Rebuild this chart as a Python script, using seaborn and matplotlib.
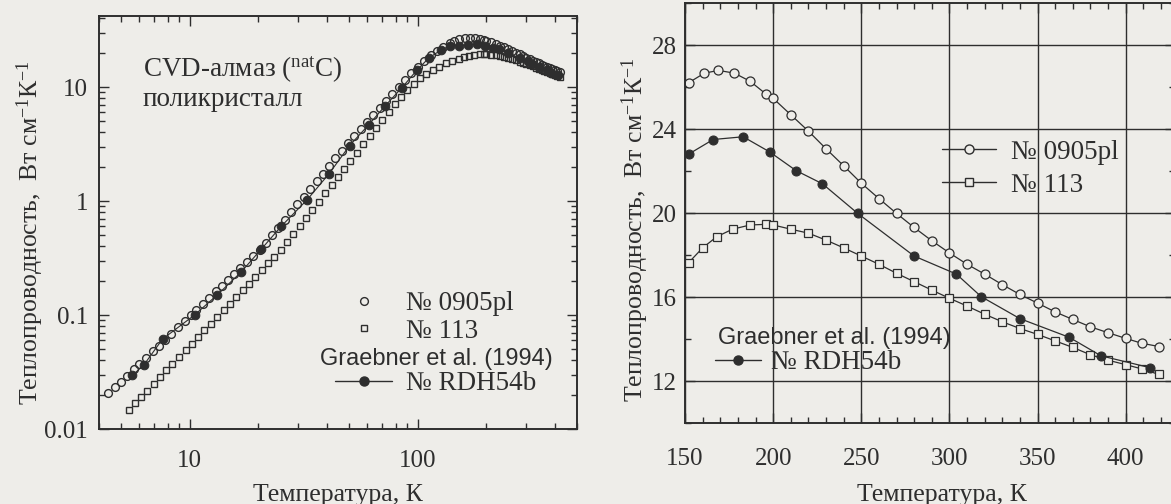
import matplotlib
matplotlib.use("Agg")
import matplotlib.pyplot as plt
import seaborn as sns
from matplotlib import font_manager
from matplotlib.lines import Line2D
from matplotlib.ticker import FuncFormatter, MultipleLocator

# left panel, low temperature part (log-log)
T_CIRC_LOW = [4.4, 4.7, 5.0, 5.3, 5.7, 6.0, 6.4, 6.9, 7.3, 7.8, 8.3, 8.9, 9.5, 10.1,
              10.7, 11.4, 12.2, 13.0, 13.8, 14.7, 15.7, 16.7, 17.8, 19.0, 20.3, 21.6,
              23.0, 24.5, 26.1, 27.9, 29.7, 31.7, 33.8, 36.0, 38.4, 40.9, 43.6, 46.5,
              49.5, 52.8, 56.3, 60.0, 64.0, 68.2, 72.7, 77.5, 82.6, 88.1, 93.9, 100,
              107, 114, 121, 129, 138, 145]
K_CIRC_LOW = [0.0205, 0.0232, 0.0261, 0.0292, 0.0335, 0.0370, 0.0417, 0.0482, 0.0537,
              0.0608, 0.0685, 0.0781, 0.0886, 0.0994, 0.111, 0.125, 0.142, 0.161, 0.180,
              0.203, 0.230, 0.258, 0.291, 0.330, 0.370, 0.430, 0.501, 0.585, 0.682,
              0.801, 0.933, 1.094, 1.278, 1.489, 1.738, 2.03, 2.37, 2.77, 3.22, 3.71,
              4.27, 4.91, 5.67, 6.54, 7.55, 8.71, 10.06, 11.5, 13.15, 15.0, 17.0, 19.1,
              20.9, 22.6, 24.4, 25.5]

T_SQ_LOW = [5.4, 5.75, 6.1, 6.5, 6.95, 7.4, 7.9, 8.4, 9.0, 9.6, 10.2, 10.9, 11.6, 12.4,
            13.2, 14.1, 15.0, 16.0, 17.1, 18.2, 19.4, 20.7, 22.1, 23.5, 25.1, 26.7,
            28.5, 30.4, 32.4, 34.5, 36.8, 39.3, 41.9, 44.6, 47.6, 50.7, 54.1, 57.7,
            61.5, 65.5, 69.9, 74.5, 79.4, 84.6, 90.2, 96.2, 102.6, 109, 117, 124, 133, 141]
K_SQ_LOW = [0.0147, 0.0168, 0.0190, 0.0217, 0.0250, 0.0285, 0.0327, 0.0372, 0.0430,
            0.0493, 0.0559, 0.0642, 0.0732, 0.0842, 0.096, 0.110, 0.126, 0.144, 0.166,
            0.189, 0.215, 0.247, 0.284, 0.322, 0.370, 0.434, 0.513, 0.605, 0.713, 0.838,
            0.989, 1.17, 1.38, 1.62, 1.92, 2.25, 2.66, 3.14, 3.70, 4.34, 5.14, 6.07,
            7.04, 8.16, 9.48, 10.7, 11.9, 13.0, 14.2, 15.1, 16.1, 16.9]

T_RDH_LOW = [5.6, 6.3, 7.6, 10.5, 13.2, 16.8, 20.6, 25.2, 32.8, 40.9, 50.3, 61, 72, 85,
             99, 112, 126, 139]
K_RDH_LOW = [0.0295, 0.0366, 0.0615, 0.100, 0.150, 0.238, 0.378, 0.60, 1.03, 1.74, 3.07,
             4.67, 6.84, 9.8, 14.0, 18.0, 21.0, 23.1]

# high temperature part (right panel, linear)
T_CIRC = [152, 161, 169, 178, 187, 196, 200, 210, 220, 230, 240, 250, 260, 270, 280,
          290, 300, 310, 320, 330, 340, 350, 360, 370, 380, 390, 400, 409, 419]
K_CIRC = [26.2, 26.66, 26.79, 26.66, 26.27, 25.66, 25.46, 24.68, 23.9, 23.06, 22.25,
          21.42, 20.69, 19.98, 19.31, 18.68, 18.1, 17.56, 17.09, 16.59, 16.12, 15.71,
          15.29, 14.93, 14.58, 14.30, 14.03, 13.80, 13.64]

T_SQ = [152, 160, 168, 177, 187, 196, 200, 210, 220, 230, 240, 250, 260, 270, 280,
        290, 300, 310, 320, 330, 340, 350, 360, 370, 380, 390, 400, 409, 419]
K_SQ = [17.63, 18.34, 18.87, 19.23, 19.43, 19.46, 19.43, 19.23, 19.04, 18.71, 18.34,
        17.95, 17.56, 17.13, 16.73, 16.33, 15.94, 15.57, 15.18, 14.82, 14.50, 14.22,
        13.91, 13.60, 13.25, 12.99, 12.78, 12.58, 12.31]

T_RDH = [152, 166, 183, 198, 213, 228, 248, 280, 304, 318, 340, 368, 386, 414]
K_RDH = [22.8, 23.5, 23.63, 22.91, 22.02, 21.39, 19.98, 17.95, 17.09, 16.02, 14.97,
         14.08, 13.2, 12.63]

LABELS = ["№ 0905pl", "№ 113", "№ RDH54b"]
REF_TITLE = "Graebner et al. (1994)"
XLABEL = "Температура, К"
YLABEL = r"Теплопроводность,  Вт см$^{-1}$К$^{-1}$"

INK = "#2e2e2e"
PAPER = "#eeede9"

sns.set_theme(style="ticks")
plt.rcParams["font.family"] = ["Liberation Serif", "DejaVu Serif"]
plt.rcParams["mathtext.fontset"] = "custom"
plt.rcParams["mathtext.rm"] = "Liberation Serif"
plt.rcParams["mathtext.it"] = "Liberation Serif:italic"
plt.rcParams["mathtext.bf"] = "Liberation Serif:bold"
plt.rcParams["text.color"] = INK
plt.rcParams["axes.labelcolor"] = INK
plt.rcParams["xtick.color"] = INK
plt.rcParams["ytick.color"] = INK

names = {f.name for f in font_manager.fontManager.ttflist}
sans = "Liberation Sans Narrow" if "Liberation Sans Narrow" in names else "Liberation Sans"
sans_size = 19.5 if sans == "Liberation Sans Narrow" else 17

FS = 18      # tick labels
FL = 18.5    # axis labels
FT = 19.5    # legend / annotation

fig = plt.figure(figsize=(11.71, 5.04), dpi=100, facecolor=PAPER)
ax1 = fig.add_axes([99 / 1171, 75 / 504, 478 / 1171, 413 / 504])
ax2 = fig.add_axes([685 / 1171, 81 / 504, 490 / 1171, 420 / 504])
for ax in (ax1, ax2):
    ax.set_facecolor(PAPER)
    for s in ax.spines.values():
        s.set_color(INK)
        s.set_linewidth(1.4)

# ---- left panel: log-log ----
ax1.set_xscale("log")
ax1.set_yscale("log")
sns.lineplot(x=T_CIRC_LOW + T_CIRC, y=K_CIRC_LOW + K_CIRC, ax=ax1, estimator=None,
             sort=False, linestyle="none", marker="o", ms=5.6, mfc="none", mec=INK,
             mew=1.0)
sns.lineplot(x=T_SQ_LOW + T_SQ, y=K_SQ_LOW + K_SQ, ax=ax1, estimator=None, sort=False,
             linestyle="none", marker="s", ms=4.9, mfc="none", mec=INK, mew=1.0)
sns.lineplot(x=T_RDH_LOW + T_RDH, y=K_RDH_LOW + K_RDH, ax=ax1, estimator=None,
             sort=False, color=INK, lw=0.8, marker="o", ms=6.2, mfc=INK, mec=INK)
ax1.set_xlim(4, 500)
ax1.set_ylim(0.01, 42)
fmt = FuncFormatter(lambda v, p: f"{v:g}")
ax1.xaxis.set_major_formatter(fmt)
ax1.yaxis.set_major_formatter(fmt)
ax1.tick_params(which="both", direction="in", top=True, right=True, width=1.0,
                labelsize=FS)
ax1.tick_params(which="major", length=7)
ax1.tick_params(which="minor", length=4)
ax1.tick_params(axis="x", pad=15)
ax1.tick_params(axis="y", pad=8)
ax1.set_xlabel(XLABEL, fontsize=FL)
ax1.set_ylabel(YLABEL, fontsize=FL)
ax1.xaxis.set_label_coords(0.5, -0.132)
ax1.yaxis.set_label_coords(-0.11, 0.475)

ax1.text(0.092, 0.869, r"CVD-алмаз ($^{\rm nat}$C)", transform=ax1.transAxes,
         fontsize=FT, va="center", ha="left")
ax1.text(0.092, 0.799, "поликристалл", transform=ax1.transAxes, fontsize=FT,
         va="center", ha="left")
ax1.text(0.462, 0.17, REF_TITLE, transform=ax1.transAxes, fontsize=sans_size,
         family=sans, va="center", ha="left")

h_circ = Line2D([], [], ls="none", marker="o", ms=5.6, mfc="none", mec=INK, mew=1.0)
h_sq = Line2D([], [], ls="none", marker="s", ms=4.9, mfc="none", mec=INK, mew=1.0)
h_rdh = Line2D([], [], color=INK, lw=1, marker="o", ms=6.5, mfc=INK, mec=INK)
leg = ax1.legend([h_circ, h_sq], LABELS[:2], loc="center left",
                 bbox_to_anchor=(0.47, 0.27), frameon=False, fontsize=FT,
                 handlelength=2.0, handletextpad=0.55, borderpad=0, labelspacing=0.1)
ax1.add_artist(leg)
ax1.legend([h_rdh], [LABELS[2]], loc="center left", bbox_to_anchor=(0.466, 0.11),
           frameon=False, fontsize=FT, handlelength=2.1, handletextpad=0.5,
           borderpad=0)

# ---- right panel: linear ----
sns.lineplot(x=T_CIRC, y=K_CIRC, ax=ax2, estimator=None, sort=False, color=INK,
             lw=0.9, marker="o", ms=6.5, mfc=PAPER, mec=INK, mew=0.9)
sns.lineplot(x=T_SQ, y=K_SQ, ax=ax2, estimator=None, sort=False, color=INK, lw=0.9,
             marker="s", ms=6, mfc=PAPER, mec=INK, mew=0.9)
sns.lineplot(x=T_RDH, y=K_RDH, ax=ax2, estimator=None, sort=False, color=INK, lw=0.9,
             marker="o", ms=6.5, mfc=INK, mec=INK)
ax2.set_xlim(150, 428)
ax2.set_ylim(10, 30)
ax2.xaxis.set_major_locator(MultipleLocator(50))
ax2.xaxis.set_minor_locator(MultipleLocator(10))
ax2.yaxis.set_major_locator(MultipleLocator(4))
ax2.yaxis.set_minor_locator(MultipleLocator(2))
ax2.grid(which="major", color=INK, lw=1.0)
ax2.set_axisbelow(True)
ax2.tick_params(which="both", direction="in", top=True, right=True, width=1.0,
                labelsize=FS)
ax2.tick_params(which="major", length=7)
ax2.tick_params(which="minor", length=4)
ax2.tick_params(axis="x", pad=18)
ax2.tick_params(axis="y", pad=6)
ax2.set_xlabel(XLABEL, fontsize=FL)
ax2.set_ylabel(YLABEL, fontsize=FL)
ax2.xaxis.set_label_coords(0.524, -0.145)
ax2.yaxis.set_label_coords(-0.07, 0.46)

ax2.text(0.067, 0.202, REF_TITLE, transform=ax2.transAxes, fontsize=sans_size,
         family=sans, va="center", ha="left")

r_circ = Line2D([], [], color=INK, lw=1, marker="o", ms=6.5, mfc=PAPER, mec=INK)
r_sq = Line2D([], [], color=INK, lw=1, marker="s", ms=6, mfc=PAPER, mec=INK)
leg2 = ax2.legend([r_circ, r_sq], LABELS[:2], loc="center left",
                  bbox_to_anchor=(0.497, 0.605), frameon=False, fontsize=FT,
                  handlelength=2.0, handletextpad=0.55, borderpad=0, labelspacing=0.3)
ax2.add_artist(leg2)
ax2.legend([h_rdh], [LABELS[2]], loc="center left", bbox_to_anchor=(0.034, 0.143),
           frameon=False, fontsize=FT, handlelength=1.7, handletextpad=0.35,
           borderpad=0)

fig.savefig("out.png", dpi=100, facecolor=PAPER)
